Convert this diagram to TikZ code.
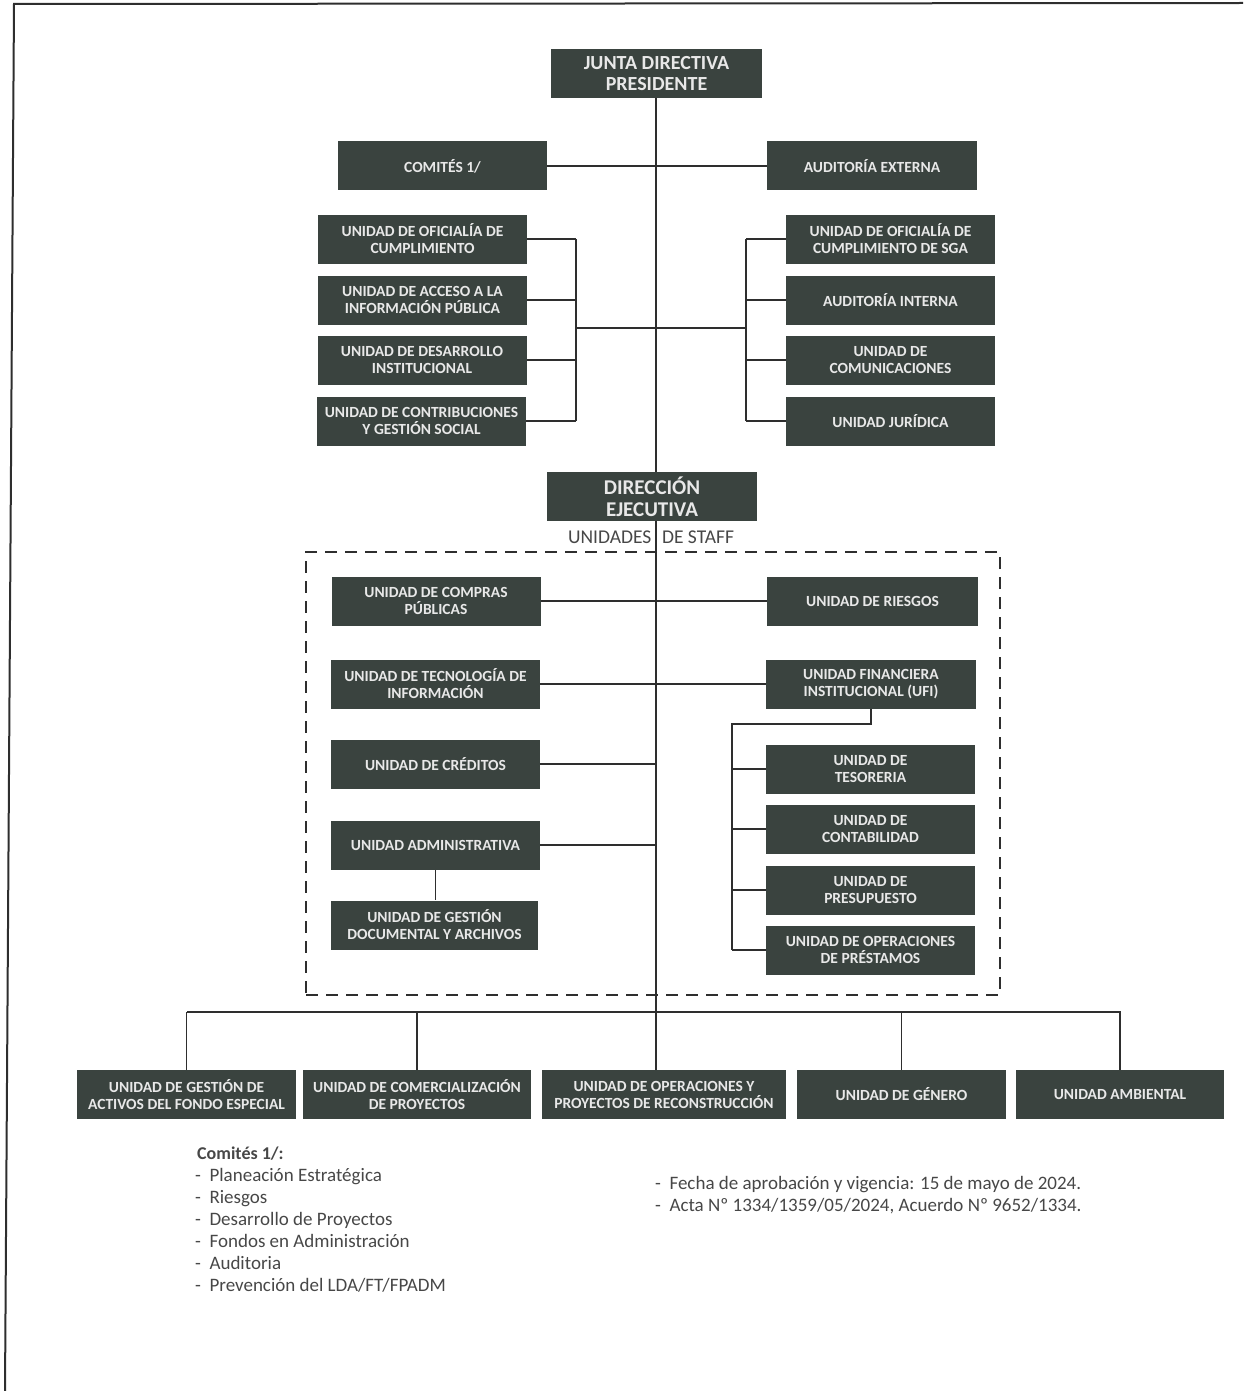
\documentclass[tikz,border=0pt]{standalone}
\usepackage{fontspec}
\usetikzlibrary{backgrounds}
\setmainfont{Carlito}
\definecolor{boxc}{HTML}{3A433F}
\definecolor{txtc}{HTML}{E8E8E8}
\definecolor{linec}{HTML}{2E2E2E}
\definecolor{notec}{HTML}{474747}
\tikzset{
  unit/.style={fill=boxc, text=txtc, align=center, inner sep=1pt,
    minimum width=209pt, minimum height=49pt,
    font=\bfseries\fontsize{15.5}{17}\selectfont},
  bigunit/.style={unit, minimum width=211pt, font=\bfseries\fontsize{20}{21}\selectfont},
  conn/.style={draw=linec, line width=1.5pt},
  note/.style={anchor=base west, text=notec, inner sep=0pt, font=\fontsize{19}{21}\selectfont},
}
\begin{document}
\begin{tikzpicture}[x=1pt,y=-1pt]
\useasboundingbox (0,0) rectangle (1243,1391);
% frame
\draw[line width=2pt, color=linec] (5,1391) -- (14,4) -- (1243,3);

% nodes
\node[bigunit] (junta) at (656.5,73.5) {JUNTA DIRECTIVA\\PRESIDENTE};
\node[unit] (com) at (442.5,166) {COMITÉS 1/};
\node[unit, minimum width=210pt] (aud) at (872,166) {AUDITORÍA EXTERNA};

\node[unit] (l1) at (422.5,239) {UNIDAD DE OFICIALÍA DE\\CUMPLIMIENTO};
\node[unit] (l2) at (422.5,300) {UNIDAD DE ACCESO A LA\\INFORMACIÓN PÚBLICA};
\node[unit] (l3) at (422,360) {UNIDAD DE DESARROLLO\\INSTITUCIONAL};
\node[unit] (l4) at (421.5,421) {UNIDAD DE CONTRIBUCIONES\\Y GESTIÓN SOCIAL};

\node[unit] (r1) at (890.5,239) {UNIDAD DE OFICIALÍA DE\\CUMPLIMIENTO DE SGA};
\node[unit] (r2) at (890.5,300) {AUDITORÍA INTERNA};
\node[unit] (r3) at (890.5,360) {UNIDAD DE\\COMUNICACIONES};
\node[unit] (r4) at (890.5,421) {UNIDAD JURÍDICA};

\node[bigunit, minimum width=210pt, font=\bfseries\fontsize{21}{22}\selectfont] (dir) at (652,496.5) {DIRECCIÓN\\EJECUTIVA};
\node[inner sep=0pt, text=notec, font=\fontsize{19.5}{20}\selectfont] (staffl) at (651,537) {UNIDADES\hspace{0.55em}DE STAFF};

\node[draw=linec, line width=1.5pt, dash pattern=on 12pt off 8pt, minimum width=694pt, minimum height=443pt, inner sep=0pt] (staff) at (653,773.5) {};

\node[unit] (cmp) at (436,601) {UNIDAD DE COMPRAS\\PÚBLICAS};
\node[unit, minimum width=211pt] (rsg) at (872.5,601) {UNIDAD DE RIESGOS};
\node[unit] (tec) at (435.5,684) {UNIDAD DE TECNOLOGÍA DE\\INFORMACIÓN};
\node[unit, minimum width=210pt] (ufi) at (871,684) {UNIDAD FINANCIERA\\INSTITUCIONAL (UFI)};
\node[unit] (cre) at (435.5,764) {UNIDAD DE CRÉDITOS};
\node[unit] (adm) at (435.5,845) {UNIDAD ADMINISTRATIVA};
\node[unit, minimum width=207pt] (doc) at (434.5,925) {UNIDAD DE GESTIÓN\\DOCUMENTAL Y ARCHIVOS};

\node[unit] (tes) at (870.5,769) {UNIDAD DE\\TESORERIA};
\node[unit] (con) at (870.5,829) {UNIDAD DE\\CONTABILIDAD};
\node[unit] (pre) at (870.5,890) {UNIDAD DE\\PRESUPUESTO};
\node[unit] (opr) at (870.5,950) {UNIDAD DE OPERACIONES\\DE PRÉSTAMOS};

\node[unit, minimum width=219pt] (b1) at (186.5,1094.5) {UNIDAD DE GESTIÓN DE\\ACTIVOS DEL FONDO ESPECIAL};
\node[unit, minimum width=228pt] (b2) at (417,1094.5) {UNIDAD DE COMERCIALIZACIÓN\\DE PROYECTOS};
\node[unit, minimum width=244pt] (b3) at (664,1094.5) {UNIDAD DE OPERACIONES Y\\PROYECTOS DE RECONSTRUCCIÓN};
\node[unit] (b4) at (901.5,1094.5) {UNIDAD DE GÉNERO};
\node[unit, minimum width=208pt] (b5) at (1120,1094.5) {UNIDAD AMBIENTAL};

% connectors
\begin{scope}[on background layer]
\coordinate (mx) at (656,0);
\draw[conn] (junta.south -| mx) -- (b3.north -| mx);
\draw[conn] (com.east) -- (aud.west);

\coordinate (lbx) at (576,0);
\coordinate (rbx) at (746,0);
\foreach \n in {l1,l2,l3,l4} \draw[conn] (\n.east) -- (\n.east -| lbx);
\draw[conn] (l1.east -| lbx) -- (l4.east -| lbx);
\foreach \n in {r1,r2,r3,r4} \draw[conn] (\n.west) -- (\n.west -| rbx);
\draw[conn] (r1.west -| rbx) -- (r4.west -| rbx);
\coordinate (lj) at (576,328);
\coordinate (rj) at (746,328);
\draw[conn] (lj) -- (rj);

\draw[conn] (cmp.east) -- (rsg.west);
\draw[conn] (tec.east) -- (ufi.west);
\draw[conn] (cre.east) -- (cre.east -| mx);
\draw[conn] (adm.east) -- (adm.east -| mx);
\draw[conn] (adm.south) -- (doc.north -| adm.south);

\coordinate (fj) at (871,724);
\coordinate (fx) at (732,724);
\draw[conn] (ufi.south) -- (fj) -- (fx) -- (fx |- opr.west);
\foreach \n in {tes,con,pre,opr} \draw[conn] (\n.west -| fx) -- (\n.west);

\coordinate (busL) at (187,1012);
\coordinate (busR) at (1121,1012);
\draw[conn] (busL) -- (busR);
\foreach \n in {b1,b2,b4,b5} \draw[conn] (\n.north |- busL) -- (\n.north);
\end{scope}

% notes
\node[note, font=\bfseries\fontsize{18}{20}\selectfont] (cn) at (197,1159) {Comités 1/:};
\node[note] (n1) at (195,1181) {-\hspace{0.45em}Planeación Estratégica};
\node[note] (n2) at (195,1203) {-\hspace{0.45em}Riesgos};
\node[note] (n3) at (195,1225) {-\hspace{0.45em}Desarrollo de Proyectos};
\node[note] (n4) at (195,1247) {-\hspace{0.45em}Fondos en Administración};
\node[note] (n5) at (195,1269) {-\hspace{0.45em}Auditoria};
\node[note] (n6) at (195,1291) {-\hspace{0.45em}Prevención del LDA/FT/FPADM};
\node[note] (f1) at (655,1189) {-\hspace{0.45em}Fecha de aprobación y vigencia: 15 de mayo de 2024.};
\node[note] (f2) at (655,1211) {-\hspace{0.45em}Acta Nº 1334/1359/05/2024, Acuerdo Nº 9652/1334.};
\end{tikzpicture}
\end{document}
